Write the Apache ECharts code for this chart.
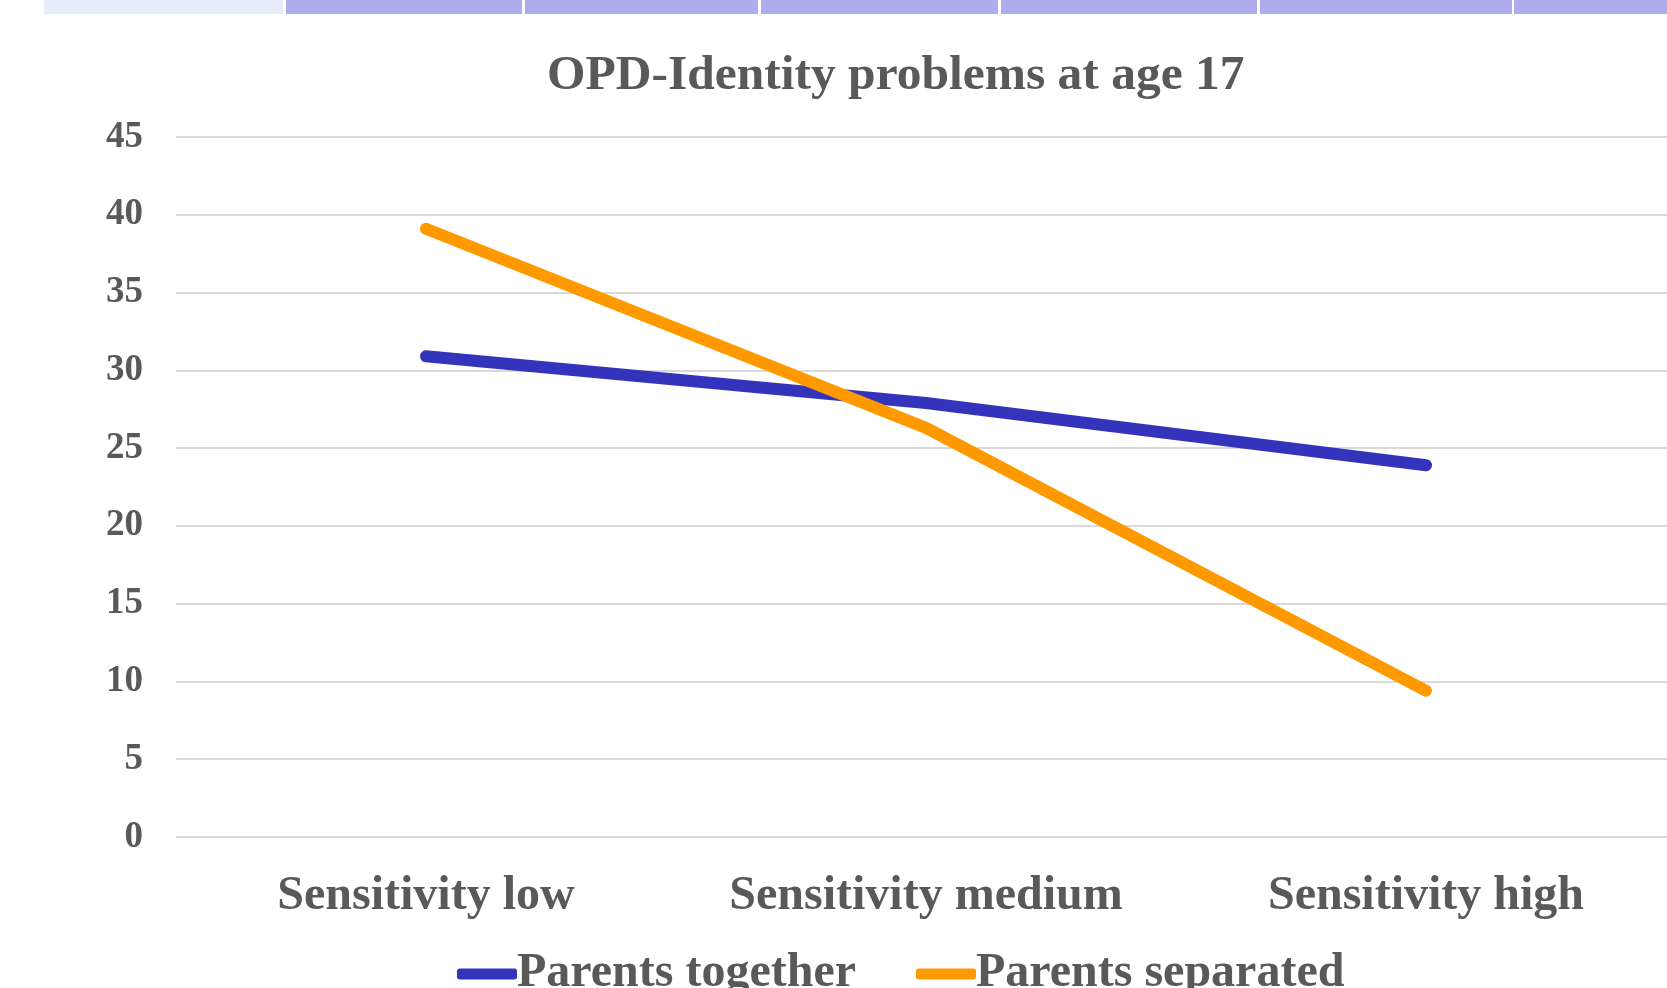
<!DOCTYPE html>
<html>
<head>
<meta charset="utf-8">
<script src="https://cdn.jsdelivr.net/npm/echarts@6/dist/echarts.min.js"></script>
<style>
html, body { margin: 0; padding: 0; background: #fff; }
#chart { width: 1667px; height: 988px; }
</style>
</head>
<body>
<div id="chart"></div>
<script>
var categories = ['Sensitivity low', 'Sensitivity medium', 'Sensitivity high'];
var seriesNames = ['Parents together', 'Parents separated'];
var together = [30.9, 27.9, 23.9];
var separated = [39.1, 26.3, 9.4];
var yTicks = [0, 5, 10, 15, 20, 25, 30, 35, 40, 45];

// strip of header cells cut off at the top of the picture
var bandCells = [
    [44, 283, '#e5eef9'],
    [286, 522, '#adadeb'],
    [525, 758, '#adadeb'],
    [761, 998, '#adadeb'],
    [1001, 1257, '#adadeb'],
    [1260, 1512, '#adadeb'],
    [1514, 1667, '#adadeb']
];

var font = 'Liberation Serif, Times New Roman, serif';
var textColor = '#595959';

var dom = document.getElementById('chart');
var myChart = echarts.init(dom);

var option = {
    backgroundColor: '#ffffff',
    animation: false,
    graphic: bandCells.map(function (c) {
        return {
            type: 'rect',
            shape: { x: c[0], y: 0, width: c[1] - c[0], height: 14 },
            style: { fill: c[2] }
        };
    }),
    title: {
        text: 'OPD-Identity problems at age 17',
        left: 542,
        top: 46,
        textStyle: { fontFamily: font, fontWeight: 'bold', fontSize: 49.5, color: textColor }
    },
    legend: {
        data: seriesNames,
        top: 945,
        left: 452,
        itemWidth: 60,
        itemHeight: 11,
        itemGap: 60,
        icon: 'roundRect',
        textStyle: { fontFamily: font, fontWeight: 'bold', fontSize: 48, color: textColor, padding: [0, 0, 0, -5] }
    },
    grid: {
        left: 176,
        top: 137,
        width: 1500,
        height: 700,
        containLabel: false,
        outerBoundsMode: 'none'
    },
    xAxis: {
        type: 'category',
        data: categories,
        boundaryGap: true,
        axisLine: { show: false },
        axisTick: { show: false },
        axisLabel: { interval: 0, margin: 36, fontFamily: font, fontWeight: 'bold', fontSize: 48, color: textColor }
    },
    yAxis: {
        type: 'value',
        min: 0,
        max: 45,
        interval: 5,
        axisLine: { show: false },
        axisTick: { show: false },
        splitLine: { lineStyle: { color: '#d9d9d9', width: 2 } },
        axisLabel: {
            margin: 33,
            fontFamily: font,
            fontWeight: 'bold',
            fontSize: 37,
            color: textColor,
            formatter: function (v) { return yTicks.indexOf(v) >= 0 ? String(v) : ''; }
        }
    },
    series: [
        {
            name: seriesNames[0],
            type: 'line',
            data: together,
            symbol: 'none',
            lineStyle: { width: 12, color: '#3333bb', cap: 'round', join: 'round' },
            itemStyle: { color: '#3333bb' }
        },
        {
            name: seriesNames[1],
            type: 'line',
            data: separated,
            symbol: 'none',
            lineStyle: { width: 12, color: '#ff9900', cap: 'round', join: 'round' },
            itemStyle: { color: '#ff9900' }
        }
    ]
};

if (option && typeof option === 'object') {
    myChart.setOption(option, true);
}
</script>
</body>
</html>
